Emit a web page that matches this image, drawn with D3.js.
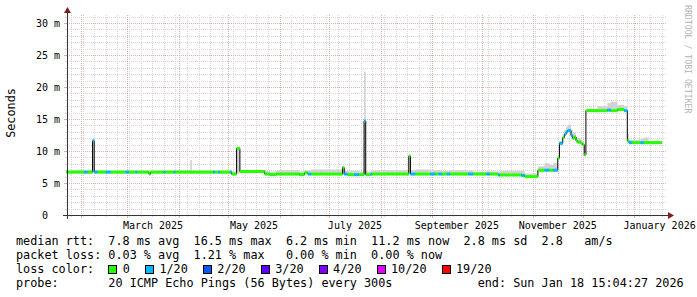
<!DOCTYPE html>
<html>
<head>
<meta charset="utf-8">
<script src="https://cdn.jsdelivr.net/npm/d3@7"></script>
<style>
body { margin: 0; background: #fff; }
svg { display: block; }
text { font-family: "DejaVu Sans Mono", monospace; fill: #000; white-space: pre; }
</style>
</head>
<body>
<script>
// smokeping style rtt graph (ms)
var dates = [
  "2025-01-23","2025-02-03","2025-02-05","2025-02-08","2025-02-09","2025-02-11","2025-02-16","2025-02-19",
  "2025-02-28","2025-03-02","2025-03-06","2025-03-07","2025-03-14","2025-03-15","2025-03-23","2025-03-24",
  "2025-03-29","2025-03-30","2025-04-08","2025-04-09","2025-04-22","2025-04-23","2025-04-25","2025-04-26",
  "2025-05-02","2025-05-03","2025-05-06","2025-05-08","2025-05-23","2025-05-26","2025-05-30","2025-06-13",
  "2025-06-16","2025-06-18","2025-06-20","2025-07-09","2025-07-10","2025-07-12","2025-07-16","2025-07-19",
  "2025-07-22","2025-07-23","2025-07-26","2025-07-27","2025-08-18","2025-08-19","2025-08-22","2025-08-31",
  "2025-09-03","2025-09-05","2025-09-07","2025-09-10","2025-09-12","2025-09-23","2025-09-26","2025-10-04",
  "2025-10-06","2025-10-11","2025-10-12","2025-10-25","2025-10-27","2025-11-04","2025-11-08","2025-11-11",
  "2025-11-13","2025-11-16","2025-11-17","2025-11-19","2025-11-20","2025-11-21","2025-11-22","2025-11-24",
  "2025-11-25","2025-11-26","2025-11-27","2025-11-28","2025-11-30","2025-12-01","2025-12-02","2025-12-03",
  "2025-12-10","2025-12-16","2025-12-18","2025-12-22","2025-12-26","2025-12-28","2025-12-29","2025-12-31",
  "2026-01-05","2026-01-07","2026-01-10","2026-01-18"
];
var medianMs = [
  6.7, 6.7, 6.7, 11.6, 6.7, 6.7, 6.7, 6.7,
  6.7, 6.7, 6.7, 6.7, 6.4, 6.7, 6.7, 6.7,
  6.7, 6.7, 6.7, 6.7, 6.7, 6.7, 6.7, 6.7,
  6.7, 6.4, 10.4, 6.8, 6.4, 6.3, 6.4, 6.3,
  6.6, 6.4, 6.4, 7.4, 6.4, 6.3, 6.3, 6.3,
  14.7, 6.3, 6.4, 6.4, 9.2, 6.4, 6.4, 6.4,
  6.4, 6.4, 6.4, 6.4, 6.4, 6.4, 6.4, 6.4,
  6.4, 6.25, 6.25, 6.2, 6.0, 7.0, 7.0, 7.0,
  7.0, 8.9, 11.2, 12.1, 12.6, 13.0, 13.2, 12.4,
  12.0, 12.2, 11.6, 11.4, 11.2, 11.0, 9.4, 16.3,
  16.3, 16.4, 16.3, 16.5, 16.3, 11.6, 11.3, 11.3,
  11.3, 11.3, 11.3, 11.3
];
// index into lossColors
var lossIdx = [
  0, 1, 0, 1, 1, 0, 1, 0,
  1, 0, 1, 0, 0, 0, 1, 0,
  1, 0, 0, 0, 1, 0, 1, 0,
  1, 0, 0, 0, 0, 0, 0, 0,
  0, 1, 0, 0, 1, 0, 1, 0,
  1, 0, 1, 0, 0, 1, 0, 1,
  0, 1, 0, 1, 0, 1, 0, 1,
  0, 1, 0, 1, 0, 0, 1, 0,
  1, 0, 1, 0, 1, 1, 1, 1,
  0, 0, 0, 0, 0, 0, 0, 0,
  0, 1, 0, 0, 1, 0, 1, 0,
  1, 0, 0, 0
];
var smokeHiMs = [
  7.0, 7.0, 7.1, 11.8, 7.0, 7.0, 7.0, 6.9,
  7.0, 6.9, 7.0, 6.9, 6.8, 6.9, 7.0, 6.9,
  7.0, 7.0, 8.6, 6.9, 7.0, 6.9, 7.0, 6.9,
  7.0, 6.8, 10.6, 7.0, 6.9, 6.8, 7.0, 6.8,
  7.0, 7.0, 7.1, 7.6, 6.9, 6.9, 6.9, 6.8,
  22.4, 6.8, 6.9, 7.0, 9.4, 7.0, 7.1, 7.0,
  7.0, 7.0, 6.9, 6.9, 7.0, 6.9, 6.8, 6.9,
  6.8, 6.8, 6.9, 6.9, 6.5, 7.6, 8.1, 7.8,
  8.1, 9.2, 11.6, 12.6, 13.3, 13.8, 14.1, 13.3,
  12.8, 12.9, 12.2, 12.0, 11.7, 11.4, 9.7, 16.6,
  17.0, 17.5, 17.7, 17.2, 17.0, 12.7, 11.7, 11.7,
  11.9, 12.1, 11.6, 11.6
];
var smokeLoMs = [
  6.5, 6.5, 6.5, 6.6, 6.5, 6.5, 6.5, 6.5,
  6.5, 6.5, 6.5, 6.5, 6.3, 6.5, 6.5, 6.5,
  6.5, 6.5, 6.5, 6.5, 6.5, 6.5, 6.5, 6.5,
  6.5, 6.3, 6.5, 6.6, 6.2, 6.1, 6.2, 6.1,
  6.4, 6.2, 6.2, 6.3, 6.2, 6.1, 6.1, 6.1,
  6.5, 6.1, 6.2, 6.2, 6.4, 6.2, 6.2, 6.2,
  6.2, 6.2, 6.2, 6.2, 6.2, 6.2, 6.2, 6.2,
  6.2, 6.1, 6.1, 6.0, 5.9, 6.8, 6.8, 6.8,
  6.8, 8.6, 10.9, 11.8, 12.3, 12.7, 12.9, 12.1,
  11.7, 11.9, 11.3, 11.1, 10.9, 10.8, 9.2, 16.1,
  16.1, 16.1, 16.1, 16.2, 16.1, 11.3, 11.1, 11.1,
  11.1, 11.1, 11.1, 11.1
];

var yTickValues = [0, 5, 10, 15, 20, 25, 30];
var yTickLabels = ["0  ", "5 m", "10 m", "15 m", "20 m", "25 m", "30 m"];
var labelMonths = ["2025-03-01", "2025-05-01", "2025-07-01", "2025-09-01", "2025-11-01", "2026-01-01"];
var monthLabels = ["March 2025", "May 2025", "July 2025", "September 2025", "November 2025", "January 2026"];

var lossLabels = ["0", "1/20", "2/20", "3/20", "4/20", "10/20", "19/20"];
var lossColors = ["#26ff00", "#00b8ff", "#0059ff", "#5e00ff", "#7e00ff", "#dd00ff", "#ff0000"];

var legendLines = [
  "median rtt:  7.8 ms avg  16.5 ms max  6.2 ms min  11.2 ms now  2.8 ms sd  2.8   am/s",
  "packet loss: 0.03 % avg  1.21 % max   0.00 % min  0.00 % now",
  "loss color:",
  "probe:       20 ICMP Echo Pings (56 Bytes) every 300s            end: Sun Jan 18 15:04:27 2026"
];

var totalWidth = 697, totalHeight = 297;
var plot = {left: 67, right: 667, top: 15, bottom: 215};
var gridColor = "#d6d6d6";
var mgridColor = "#e0b0b0";
var axisColor = "#333";
var arrowColor = "#7f1f1f";
var charW = 7.1;

var parseDay = d3.timeParse("%Y-%m-%d");
var points = dates.map(function (d, i) {
  return {t: parseDay(d), m: medianMs[i], loss: lossIdx[i], hi: smokeHiMs[i], lo: smokeLoMs[i]};
});

var x = d3.scaleTime()
  .domain([new Date(2025, 0, 23, 13, 26), new Date(2026, 0, 20, 23, 30)])
  .range([plot.left, plot.right]);
var y = d3.scaleLinear().domain([0, 31.25]).range([plot.bottom, plot.top]);

var svg = d3.select("body").append("svg")
  .attr("width", totalWidth)
  .attr("height", totalHeight);

// grid
var grid = svg.append("g").attr("shape-rendering", "crispEdges");
var minorY = d3.range(1, 32).filter(function (v) { return v % 5 !== 0; });
var majorY = d3.range(5, 32, 5);
var weeks = d3.timeWeek.range(x.domain()[0], x.domain()[1]);
var months = d3.timeMonth.range(x.domain()[0], x.domain()[1]);

function hLines(vals, color, ext) {
  grid.selectAll(null).data(vals).enter().append("line")
    .attr("x1", plot.left).attr("x2", plot.right)
    .attr("y1", function (d) { return Math.round(y(d)) + 0.5; })
    .attr("y2", function (d) { return Math.round(y(d)) + 0.5; })
    .attr("stroke", color).attr("stroke-dasharray", "1,1");
  grid.selectAll(null).data(vals).enter().append("line")
    .attr("x1", plot.left - ext).attr("x2", plot.left)
    .attr("y1", function (d) { return Math.round(y(d)) + 0.5; })
    .attr("y2", function (d) { return Math.round(y(d)) + 0.5; })
    .attr("stroke", color);
}
function vLines(vals, color, ext) {
  grid.selectAll(null).data(vals).enter().append("line")
    .attr("x1", function (d) { return Math.round(x(d)) + 0.5; })
    .attr("x2", function (d) { return Math.round(x(d)) + 0.5; })
    .attr("y1", plot.top).attr("y2", plot.bottom)
    .attr("stroke", color).attr("stroke-dasharray", "1,1");
  grid.selectAll(null).data(vals).enter().append("line")
    .attr("x1", function (d) { return Math.round(x(d)) + 0.5; })
    .attr("x2", function (d) { return Math.round(x(d)) + 0.5; })
    .attr("y1", plot.bottom).attr("y2", plot.bottom + ext)
    .attr("stroke", color);
}
hLines(minorY, gridColor, 2);
vLines(weeks, gridColor, 2);
hLines(majorY, mgridColor, 3);
vLines(months, mgridColor, 3);

// smoke
var smoke = d3.area()
  .x(function (d) { return x(d.t); })
  .y0(function (d) { return y(d.lo); })
  .y1(function (d) { return y(d.hi); })
  .curve(d3.curveStepAfter);
svg.append("path").datum(points)
  .attr("d", smoke)
  .attr("fill", "#d2d2d2");

// median line
var medLine = d3.line()
  .x(function (d) { return x(d.t); })
  .y(function (d) { return y(d.m); })
  .curve(d3.curveStepAfter);
svg.append("path").datum(points)
  .attr("d", medLine)
  .attr("fill", "none")
  .attr("stroke", "#000")
  .attr("stroke-width", 1);

// loss coloured band around the median
var segs = points.slice(0, -1).map(function (d, i) { return {a: d, b: points[i + 1]}; });
svg.append("g").selectAll("rect").data(segs).enter().append("rect")
  .attr("x", function (d) { return x(d.a.t); })
  .attr("width", function (d) { return x(d.b.t) - x(d.a.t); })
  .attr("y", function (d) { return y(d.a.m) - 1.5; })
  .attr("height", 3)
  .attr("fill", function (d) { return lossColors[d.a.loss]; });

// axes
var ax = svg.append("g").attr("shape-rendering", "crispEdges");
ax.append("line").attr("x1", plot.left + 0.5).attr("x2", plot.left + 0.5)
  .attr("y1", plot.bottom + 4).attr("y2", plot.top - 3).attr("stroke", axisColor);
ax.append("line").attr("x1", plot.left - 4).attr("x2", plot.right + 2)
  .attr("y1", plot.bottom + 0.5).attr("y2", plot.bottom + 0.5).attr("stroke", axisColor);
svg.append("path")
  .attr("d", "M" + (plot.left + 0.5) + "," + (plot.top - 8) + "l-3.5,6h7z")
  .attr("fill", arrowColor);
svg.append("path")
  .attr("d", "M" + (plot.right + 7) + "," + (plot.bottom + 0.5) + "l-6,-3.5v7z")
  .attr("fill", arrowColor);

// tick labels
svg.selectAll(".ylab").data(yTickValues).enter().append("text")
  .attr("class", "ylab")
  .attr("x", 60)
  .attr("y", function (d) { return y(d) + 3.7; })
  .attr("text-anchor", "end")
  .attr("font-size", "10px")
  .text(function (d, i) { return yTickLabels[i]; });

svg.selectAll(".xlab").data(labelMonths).enter().append("text")
  .attr("class", "xlab")
  .attr("x", function (d) {
    var m = parseDay(d);
    return (x(m) + x(d3.timeMonth.offset(m, 1))) / 2;
  })
  .attr("y", 228.5)
  .attr("text-anchor", "middle")
  .attr("font-size", "10px")
  .text(function (d, i) { return monthLabels[i]; });

svg.append("text")
  .attr("transform", "translate(15,113) rotate(-90)")
  .attr("text-anchor", "middle")
  .attr("font-size", "11.8px")
  .text("Seconds");

svg.append("text")
  .attr("transform", "translate(685,5) rotate(90)")
  .attr("font-size", "8.2px")
  .style("fill", "#b4b4b4")
  .text("RRDTOOL / TOBI OETIKER");

// legend
svg.selectAll(".leg").data(legendLines).enter().append("text")
  .attr("class", "leg")
  .attr("x", 16)
  .attr("y", function (d, i) { return 245 + i * 14; })
  .attr("font-size", "11.8px")
  .text(function (d) { return d; });

var bx = 16 + 13 * charW;
lossLabels.forEach(function (lab, i) {
  svg.append("rect")
    .attr("x", Math.round(bx) + 0.5).attr("y", 265.5)
    .attr("width", 8).attr("height", 8)
    .attr("fill", lossColors[i]).attr("stroke", "#000")
    .attr("shape-rendering", "crispEdges");
  svg.append("text")
    .attr("x", bx + 14.5).attr("y", 273)
    .attr("font-size", "11.8px")
    .text(lab);
  bx = bx + 14.5 + lab.length * charW + 15;
});
</script>
</body>
</html>
